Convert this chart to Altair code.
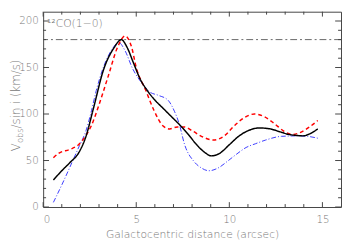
import altair as alt
import pandas as pd

# ---- data ----
black_x = [0.55, 1.0, 1.45, 1.9, 2.3, 2.7, 3.25, 3.8, 4.2, 4.5, 4.85, 5.2, 5.6, 6.0, 6.4, 6.9,
           7.35, 7.8, 8.2, 8.6, 9.05, 9.5, 10.0, 10.5, 11.0, 11.6, 12.2, 12.7, 13.2, 13.6, 13.95, 14.35, 14.75]
black_v = [29, 39, 48, 58, 76, 106, 148, 171, 180, 172, 155, 138, 125, 115, 107, 97,
           88, 78, 68, 60, 55, 58, 67, 76, 82, 85, 84, 81, 78, 77, 76.5, 79, 84]

red_x = [0.55, 0.85, 1.45, 1.9, 2.3, 2.6, 3.0, 3.5, 4.0, 4.4, 4.75, 5.0, 5.5, 5.95, 6.45, 6.8,
         7.2, 7.6, 8.0, 8.5, 9.15, 9.7, 10.3, 10.8, 11.35, 11.9, 12.4, 12.9, 13.4, 13.8, 14.3, 14.75]
red_v = [53, 58, 62, 67, 77, 88, 110, 141, 172, 184, 172, 150, 126, 104, 87, 84,
         86, 86, 82, 76, 72, 76, 88, 96, 100, 97, 90, 82, 78, 80, 86, 93]

blue_x = [0.55, 1.1, 1.55, 1.95, 2.3, 2.6, 2.85, 3.25, 3.75, 4.05, 4.4, 4.8, 5.35, 5.7, 6.2, 6.7,
          7.05, 7.3, 7.6, 8.1, 8.5, 8.9, 9.4, 9.95, 10.4, 10.9, 11.4, 11.95, 12.8, 13.7, 14.2, 14.75]
blue_v = [5, 28, 48, 66, 82, 104, 125, 151, 171, 177, 168, 149, 132, 124, 120, 115,
          103, 90, 67, 49, 42, 39, 42, 50, 57, 64, 68, 72, 76, 76.5, 76, 74]

ref_level = [180]

x_major = [0, 5, 10, 15]
x_minor = [1, 2, 3, 4, 6, 7, 8, 9, 11, 12, 13, 14]
y_major = [0, 50, 100, 150, 200]
y_minor = [v for v in range(10, 210, 10) if v % 50 != 0]

x_title = "Galactocentric distance (arcsec)"
label_text = "\u00b9\u00b2CO(1\u22120)"

W, H = 305, 200
FONT = "DejaVu Sans"
TXT = "#777777"
FRAME = "#444444"

xs = alt.Scale(domain=[0, 16], nice=False, zero=False)
ys = alt.Scale(domain=[0, 210], nice=False, zero=False)

xaxis = alt.Axis(values=x_major, title=x_title, ticks=False, domain=False, grid=False,
                 labelPadding=8, titlePadding=4, format="d")
yaxis = alt.Axis(values=y_major, title=None, ticks=False, domain=False, grid=False,
                 labelPadding=5, format="d")

def X(field):
    return alt.X(field, scale=xs, axis=xaxis)

def Y(field):
    return alt.Y(field, scale=ys, axis=yaxis)

def line_layer(xv, yv, color, width, dash):
    df = pd.DataFrame({"x": xv, "v": yv})
    return alt.Chart(df).mark_line(color=color, strokeWidth=width, strokeDash=dash,
                                   interpolate="monotone").encode(
        x=X("x:Q"), y=Y("v:Q"))

ref = alt.Chart(pd.DataFrame({"v": ref_level})).mark_rule(
    color="#666666", strokeWidth=1, strokeDash=[7, 3, 2, 3]).encode(y=Y("v:Q"))

def xticks(vals, length):
    df = pd.DataFrame({"t": vals})
    bot = alt.Chart(df).mark_rule(color=FRAME, strokeWidth=1).encode(
        x=X("t:Q"), y=alt.value(H), y2=alt.value(H - length))
    top = alt.Chart(df).mark_rule(color=FRAME, strokeWidth=1).encode(
        x=X("t:Q"), y=alt.value(0), y2=alt.value(length))
    return [bot, top]

def yticks(vals, length):
    df = pd.DataFrame({"t": vals})
    left = alt.Chart(df).mark_rule(color=FRAME, strokeWidth=1).encode(
        y=Y("t:Q"), x=alt.value(0), x2=alt.value(length))
    right = alt.Chart(df).mark_rule(color=FRAME, strokeWidth=1).encode(
        y=Y("t:Q"), x=alt.value(W), x2=alt.value(W - length))
    return [left, right]

one = pd.DataFrame({"a": [0]})
def txt(text, x, y, size, angle=0, align="left", baseline="alphabetic"):
    return alt.Chart(one).mark_text(text=text, font=FONT, fontSize=size, color=TXT,
                                    fontWeight=300, angle=angle, align=align,
                                    baseline=baseline).encode(
        x=alt.value(x), y=alt.value(y))

ytitle = [
    txt("V", -24, 143, 12, angle=270),
    txt("obs", -21, 134.5, 8.5, angle=270),
    txt("/sin i (km/s)", -24, 119.5, 12, angle=270),
]
annot = txt(label_text, 4, 13, 11, baseline="middle")

layers = [ref]
layers += xticks(x_major, 5) + xticks(x_minor, 3)
layers += yticks(y_major, 6) + yticks(y_minor, 3)
layers += [
    line_layer(blue_x, blue_v, "#3a3aff", 1, [5, 2, 1, 2]),
    line_layer(red_x, red_v, "#ff0000", 1.5, [4, 3]),
    line_layer(black_x, black_v, "#000000", 1.5, [1, 0]),
]
layers += ytitle + [annot]

chart = alt.layer(*layers).properties(
    width=W, height=H,
    autosize=alt.AutoSizeParams(type="none"),
    padding={"left": 36, "top": 1, "right": 1, "bottom": 32},
    background="white",
).configure_view(stroke=FRAME, strokeWidth=1).configure_axis(
    labelFont=FONT, labelFontSize=10.5, labelColor=TXT, labelFontWeight=300,
    titleFont=FONT, titleFontSize=11, titleColor=TXT, titleFontWeight=300,
)

chart.save("out.html", embed_options={"renderer": "svg", "actions": False})
